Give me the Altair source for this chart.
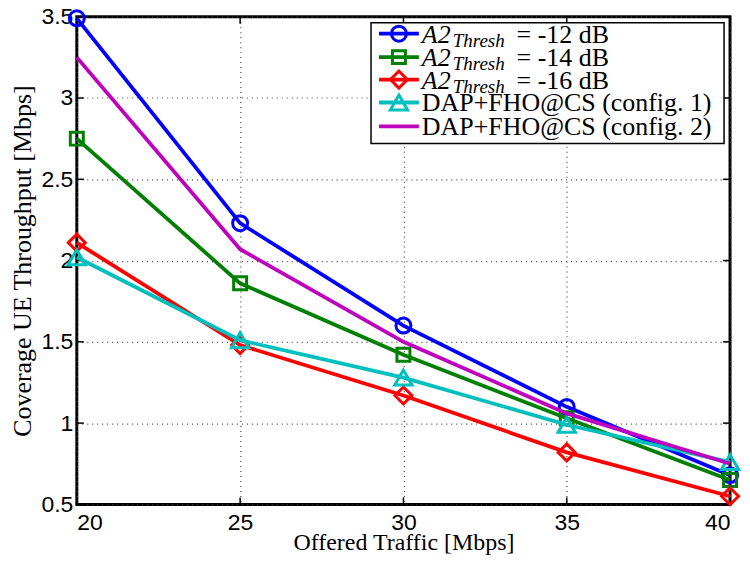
import altair as alt
import pandas as pd

x_vals = [20, 25, 30, 35, 40]
blue_vals = [3.49, 2.23, 1.60, 1.10, 0.68]
green_vals = [2.75, 1.86, 1.42, 1.03, 0.65]
red_vals = [2.11, 1.48, 1.17, 0.82, 0.55]
cyan_vals = [2.02, 1.51, 1.28, 0.99, 0.76]
magenta_vals = [3.25, 2.07, 1.50, 1.06, 0.75]

x_ticks = [20, 25, 30, 35, 40]
y_ticks = [0.5, 1, 1.5, 2, 2.5, 3, 3.5]

series_names = ["-12 dB", "-14 dB", "-16 dB", "DAP+FHO@CS (config. 1)", "DAP+FHO@CS (config. 2)"]
series_colors = ["#0000FF", "#008000", "#FF0000", "#00BFBF", "#BF00BF"]
series_shapes = ["circle", "square", "diamond", "triangle-up", None]
series_sizes = [225, 169, 289, 300, 0]
all_vals = [blue_vals, green_vals, red_vals, cyan_vals, magenta_vals]

W, H = 655, 489
SERIF = "Liberation Serif"
SANS = "Liberation Sans"

xs = alt.Scale(domain=[20, 40], nice=False, zero=False)
ys = alt.Scale(domain=[0.5, 3.5], nice=False, zero=False)

layers = []

base_df = pd.DataFrame({"x": x_vals, "y": blue_vals})
axes = alt.Chart(base_df).mark_point(opacity=0).encode(
    x=alt.X("x:Q", scale=xs, title="Offered Traffic [Mbps]",
            axis=alt.Axis(values=x_ticks, grid=True, gridDash=[1, 4], gridColor="#444444",
                          gridWidth=1.2, domain=False, ticks=False,
                          labelFont=SANS, labelFontSize=23, labelColor="black", labelPadding=7,
                          titleFont=SERIF, titleFontSize=24, titleFontWeight="normal",
                          titleColor="black", titleY=38, titleBaseline="middle")),
    y=alt.Y("y:Q", scale=ys, title="Coverage UE Throughput [Mbps]",
            axis=alt.Axis(values=y_ticks, grid=True, gridDash=[1, 4], gridColor="#444444",
                          gridWidth=1.2, domain=False, ticks=False, labelExpr="datum.value",
                          labelFont=SANS, labelFontSize=23, labelColor="black", labelPadding=4,
                          titleFont=SERIF, titleFontSize=26, titleFontWeight="normal",
                          titleColor="black", titleX=-54, titleBaseline="middle")),
)
layers.append(axes)

# inward ticks
xt = pd.DataFrame({"x": x_ticks})
yt = pd.DataFrame({"y": y_ticks})
layers.append(alt.Chart(xt).mark_rule(color="black", strokeWidth=1.5).encode(
    x=alt.X("x:Q", scale=xs), y=alt.value(0), y2=alt.value(7)))
layers.append(alt.Chart(xt).mark_rule(color="black", strokeWidth=1.5).encode(
    x=alt.X("x:Q", scale=xs), y=alt.value(H), y2=alt.value(H - 7)))
layers.append(alt.Chart(yt).mark_rule(color="black", strokeWidth=1.5).encode(
    y=alt.Y("y:Q", scale=ys), x=alt.value(0), x2=alt.value(7)))
layers.append(alt.Chart(yt).mark_rule(color="black", strokeWidth=1.5).encode(
    y=alt.Y("y:Q", scale=ys), x=alt.value(W), x2=alt.value(W - 7)))

for name, col, shp, sz, vals in zip(series_names, series_colors, series_shapes, series_sizes, all_vals):
    df = pd.DataFrame({"x": x_vals, "y": vals})
    layers.append(alt.Chart(df).mark_line(color=col, strokeWidth=3.8).encode(
        x=alt.X("x:Q", scale=xs), y=alt.Y("y:Q", scale=ys)))
    if shp:
        layers.append(alt.Chart(df).mark_point(shape=shp, color=col, filled=False, size=sz,
                                               strokeWidth=3, opacity=1).encode(
            x=alt.X("x:Q", scale=xs), y=alt.Y("y:Q", scale=ys)))

# legend box
leg_df = pd.DataFrame({"k": [0]})
layers.append(alt.Chart(leg_df).mark_rect(fill="white", stroke="black", strokeWidth=1.5).encode(
    x=alt.value(295), x2=alt.value(649), y=alt.value(6), y2=alt.value(127)))

row_y = [17, 40.5, 63, 86, 110]
for i, (name, col, shp, sz) in enumerate(zip(series_names, series_colors, series_shapes, series_sizes)):
    ry = row_y[i]
    layers.append(alt.Chart(leg_df).mark_rule(color=col, strokeWidth=3.8).encode(
        x=alt.value(303), x2=alt.value(343), y=alt.value(ry)))
    if shp:
        layers.append(alt.Chart(leg_df).mark_point(shape=shp, color=col, filled=False, size=sz,
                                                   strokeWidth=3, opacity=1).encode(
            x=alt.value(323), y=alt.value(ry)))
    if i < 3:
        layers.append(alt.Chart(leg_df).mark_text(text="A2", font=SERIF, fontSize=26, fontStyle="italic",
                                                  align="left", baseline="alphabetic", color="black").encode(
            x=alt.value(346), y=alt.value(ry + 9)))
        layers.append(alt.Chart(leg_df).mark_text(text="Thresh", font=SERIF, fontSize=19, fontStyle="italic",
                                                  align="left", baseline="alphabetic", color="black").encode(
            x=alt.value(377), y=alt.value(ry + 13)))
        layers.append(alt.Chart(leg_df).mark_text(text="= " + name, font=SERIF, fontSize=26,
                                                  align="left", baseline="alphabetic", color="black").encode(
            x=alt.value(441), y=alt.value(ry + 9)))
    else:
        layers.append(alt.Chart(leg_df).mark_text(text=name, font=SERIF, fontSize=26,
                                                  align="left", baseline="alphabetic", color="black").encode(
            x=alt.value(346), y=alt.value(ry + 9)))

chart = alt.layer(*layers).properties(
    width=W, height=H,
    autosize=alt.AutoSizeParams(type="none"),
    padding={"left": 69, "top": 8, "right": 12, "bottom": 51},
    background="white",
).configure_view(stroke="black", strokeWidth=3)

chart.save("out.html", embed_options={"renderer": "svg", "actions": False})
